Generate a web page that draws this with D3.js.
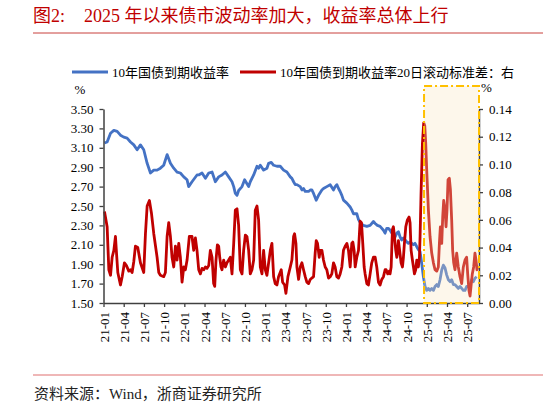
<!DOCTYPE html>
<html><head><meta charset="utf-8">
<script src="https://cdn.jsdelivr.net/npm/d3@7"></script>
<style>
html,body{margin:0;padding:0;background:#fff;}
svg{display:block;}
</style></head><body>
<svg id="chart" width="548" height="403"></svg>
<script>
// ---------- data ----------
const titleLead = "图2:";
const titleMain = "2025 年以来债市波动率加大，收益率总体上行";
const sourceText = "资料来源：Wind，浙商证券研究所";
const seriesNames = ["10年国债到期收益率", "10年国债到期收益率20日滚动标准差：右"];
const xTickLabels = ["21-01","21-04","21-07","21-10","22-01","22-04","22-07","22-10","23-01","23-04","23-07","23-10","24-01","24-04","24-07","24-10","25-01","25-04","25-07"];
const leftTicks = [1.5,1.7,1.9,2.1,2.3,2.5,2.7,2.9,3.1,3.3,3.5];
const rightTicks = [0,0.02,0.04,0.06,0.08,0.10,0.12,0.14];
const highlightStart = 2024.966; // start of shaded 2025 window (decimal year)

// 10Y CGB yield (%), x as decimal year
const yieldT = [2021.012,2021.045,2021.087,2021.128,2021.169,2021.210,2021.251,2021.292,2021.334,2021.375,2021.416,2021.457,2021.498,2021.540,2021.581,2021.622,2021.663,2021.704,2021.745,2021.787,2021.828,2021.869,2021.910,2021.951,2021.993,2022.034,2022.054,2022.095,2022.157,
2022.178,2022.219,2022.261,2022.302,2022.343,2022.384,2022.425,2022.466,2022.508,2022.549,2022.590,2022.611,2022.631,2022.652,2022.672,2022.714,2022.746,2022.775,2022.796,2022.816,2022.858,2022.899,2022.919,2022.940,2022.981,2023.022,2023.043,2023.076,2023.105,2023.146,2023.187,2023.228,2023.269,2023.311,
2023.331,2023.352,2023.372,2023.393,2023.434,2023.455,2023.475,2023.496,2023.537,2023.558,2023.578,2023.599,2023.632,2023.661,2023.702,2023.722,2023.763,2023.805,2023.846,2023.866,2023.887,2023.908,2023.928,2023.949,2023.969,2024.011,2024.052,2024.072,2024.093,2024.134,2024.155,2024.183,2024.216,2024.258,2024.299,2024.340,2024.361,2024.389,2024.422,2024.464,2024.484,2024.505,
2024.526,2024.546,2024.567,2024.587,2024.608,2024.629,2024.649,2024.670,2024.690,2024.711,2024.732,2024.752,2024.773,2024.793,2024.814,2024.835,2024.855,2024.876,2024.896,2024.917,2024.937,2024.958,2024.979,2024.999,2025.020,2025.040,2025.061,2025.082,2025.102,2025.123,2025.143,2025.164,2025.185,2025.205,2025.226,2025.246,2025.267,2025.288,2025.308,2025.329,2025.349,2025.370,2025.390,2025.411,2025.432,2025.452,2025.473,2025.493,2025.514,2025.535,2025.555,2025.576,2025.596,2025.617];
const yieldV = [3.15,3.16,3.25,3.28,3.27,3.23,3.21,3.20,3.16,3.13,3.08,3.13,3.08,2.94,2.84,2.87,2.87,2.89,2.92,3.03,2.94,2.89,2.85,2.84,2.80,2.77,2.70,2.75,2.82,
2.82,2.84,2.785,2.84,2.85,2.75,2.80,2.82,2.85,2.80,2.75,2.70,2.63,2.61,2.66,2.70,2.77,2.73,2.70,2.75,2.82,2.91,2.89,2.92,2.87,2.89,2.94,2.95,2.92,2.91,2.91,2.87,2.85,2.80,
2.785,2.75,2.72,2.72,2.70,2.665,2.68,2.65,2.65,2.665,2.665,2.63,2.56,2.61,2.665,2.68,2.70,2.72,2.665,2.70,2.72,2.68,2.65,2.61,2.56,2.53,2.49,2.46,2.42,2.42,2.36,2.32,2.30,2.29,2.30,2.34,2.32,2.30,2.29,2.25,2.22,2.27,
2.27,2.25,2.22,2.20,2.18,2.22,2.235,2.18,2.15,2.17,2.15,2.13,2.115,2.13,2.115,2.10,2.115,2.08,2.05,2.03,1.91,1.77,1.67,1.63,1.65,1.63,1.65,1.63,1.67,1.69,1.67,1.74,1.84,1.89,1.86,1.79,1.74,1.72,1.74,1.69,1.69,1.67,1.65,1.67,1.65,1.63,1.63,1.67,1.67,1.69,1.74,1.72,1.755,1.77];

// 20-day rolling std of the yield (%), right axis
const stdT = [2021.012,2021.045,2021.066,2021.087,2021.107,2021.128,2021.148,2021.161,2021.177,2021.210,2021.231,2021.259,2021.284,2021.313,2021.334,2021.354,2021.375,2021.395,2021.424,2021.457,2021.498,2021.519,2021.540,2021.568,2021.593,2021.622,2021.663,2021.684,2021.704,2021.745,2021.766,2021.787,2021.807,2021.828,2021.848,2021.869,2021.890,2021.910,2021.931,2021.951,2021.972,2021.993,2022.013,2022.034,2022.062,2022.095,2022.116,2022.137,2022.157,
2022.178,2022.199,2022.219,2022.240,2022.261,2022.281,2022.302,2022.322,2022.343,2022.363,2022.376,2022.392,2022.409,2022.425,2022.438,2022.454,2022.466,2022.487,2022.508,2022.528,2022.549,2022.569,2022.590,2022.611,2022.631,2022.652,2022.672,2022.693,2022.714,2022.734,2022.755,2022.775,2022.796,2022.816,2022.837,2022.858,2022.878,2022.899,2022.919,2022.940,2022.961,2022.981,2023.002,2023.022,2023.043,2023.064,2023.084,2023.105,2023.125,2023.146,2023.166,2023.199,2023.216,2023.241,2023.257,2023.282,2023.311,2023.331,
2023.352,2023.364,2023.381,2023.393,2023.414,2023.434,2023.455,2023.475,2023.496,2023.516,2023.537,2023.558,2023.578,2023.599,2023.619,2023.632,2023.648,2023.669,2023.681,2023.702,2023.722,2023.743,2023.763,2023.784,2023.805,2023.825,2023.846,2023.866,2023.887,2023.908,2023.928,2023.949,2023.969,2023.990,2024.011,2024.031,2024.052,2024.072,2024.085,2024.101,2024.114,2024.134,2024.155,2024.175,2024.192,2024.208,2024.225,2024.237,2024.258,2024.278,2024.299,2024.319,2024.340,2024.361,2024.381,2024.402,2024.422,2024.443,2024.464,2024.484,
2024.497,2024.517,2024.534,2024.546,2024.559,2024.575,2024.587,2024.600,2024.616,2024.629,2024.641,2024.649,2024.670,2024.682,2024.699,2024.711,2024.723,2024.740,2024.760,2024.781,2024.793,2024.806,2024.822,2024.835,2024.847,2024.863,2024.876,2024.888,2024.896,2024.909,2024.917,2024.929,2024.946,2024.962,2024.975,2024.987,2024.999,2025.020,2025.040,2025.061,2025.082,2025.102,2025.123,2025.143,2025.156,2025.168,2025.185,2025.197,2025.209,2025.226,2025.238,2025.250,2025.263,2025.279,2025.292,2025.308,2025.320,2025.333,2025.349,2025.370,2025.390,2025.411,2025.432,2025.452,2025.473,2025.493,2025.506,2025.522,2025.535,2025.547,2025.563,2025.580,2025.596,2025.609,2025.621,2025.629];
const stdV = [0.066,0.055,0.024,0.020,0.033,0.038,0.048,0.036,0.022,0.013,0.019,0.029,0.027,0.023,0.024,0.022,0.030,0.041,0.040,0.029,0.022,0.050,0.070,0.074,0.065,0.050,0.033,0.022,0.020,0.019,0.022,0.048,0.058,0.048,0.033,0.026,0.041,0.031,0.043,0.033,0.015,0.026,0.024,0.031,0.048,0.048,0.038,0.047,0.038,
0.024,0.021,0.025,0.024,0.026,0.025,0.027,0.038,0.033,0.014,0.012,0.031,0.042,0.041,0.033,0.026,0.024,0.031,0.026,0.029,0.031,0.033,0.021,0.043,0.067,0.068,0.056,0.024,0.021,0.038,0.049,0.048,0.038,0.021,0.024,0.031,0.067,0.070,0.060,0.026,0.021,0.038,0.024,0.020,0.029,0.038,0.043,0.019,0.014,0.013,0.019,0.024,0.015,0.013,0.007,0.019,0.026,0.031,
0.048,0.050,0.043,0.026,0.017,0.026,0.029,0.024,0.019,0.015,0.014,0.017,0.018,0.019,0.036,0.045,0.043,0.033,0.038,0.038,0.031,0.026,0.024,0.018,0.019,0.021,0.029,0.026,0.019,0.018,0.021,0.026,0.038,0.041,0.043,0.038,0.026,0.043,0.044,0.038,0.026,0.033,0.038,0.059,0.058,0.043,0.026,0.021,0.014,0.013,0.021,0.029,0.033,0.033,0.026,0.015,0.013,0.017,0.019,0.024,
0.024,0.021,0.023,0.021,0.026,0.053,0.055,0.048,0.038,0.033,0.038,0.045,0.035,0.029,0.026,0.033,0.043,0.055,0.060,0.062,0.058,0.038,0.031,0.026,0.021,0.024,0.031,0.029,0.026,0.033,0.048,0.079,0.115,0.130,0.128,0.115,0.096,0.067,0.048,0.036,0.029,0.024,0.023,0.026,0.043,0.055,0.043,0.062,0.074,0.067,0.055,0.067,0.089,0.090,0.082,0.060,0.038,0.029,0.024,0.036,0.026,0.019,0.014,0.026,0.031,0.033,0.021,0.009,0.005,0.012,0.021,0.026,0.036,0.031,0.024,0.026];

// ---------- drawing ----------
const FONT = '"Liberation Serif","Noto Sans CJK SC",serif';
const BLUE = "#4472C4", RED = "#C00000", AXIS = "#404040";
const svg = d3.select("#chart").style("font-family", FONT);

const x = d3.scaleLinear().domain([2021.0, 2025.646]).range([103.5, 479]);
const yL = d3.scaleLinear().domain([1.5, 3.5]).range([303, 109]);
const yR = d3.scaleLinear().domain([0, 0.14]).range([303, 109]);

// title
svg.append("text").attr("x", 33).attr("y", 22).attr("font-size", 18).attr("fill", RED).text(titleLead);
svg.append("text").attr("x", 84).attr("y", 22).attr("font-size", 18).attr("fill", RED).text(titleMain);
svg.append("line").attr("x1", 33).attr("x2", 543).attr("y1", 33).attr("y2", 33)
  .attr("stroke", "#C8403C").attr("stroke-width", 1);

// legend
const legY = 72;
svg.append("line").attr("x1", 72).attr("x2", 108).attr("y1", legY).attr("y2", legY).attr("stroke", BLUE).attr("stroke-width", 3);
svg.append("text").attr("x", 112).attr("y", legY).attr("dy", "0.35em").attr("font-size", 13).attr("fill", "#000").text(seriesNames[0]);
svg.append("line").attr("x1", 240).attr("x2", 276).attr("y1", legY).attr("y2", legY).attr("stroke", RED).attr("stroke-width", 3);
svg.append("text").attr("x", 280).attr("y", legY).attr("dy", "0.35em").attr("font-size", 13).attr("fill", "#000").text(seriesNames[1]);

// unit labels
svg.append("text").attr("x", 80).attr("y", 89).attr("dy", "0.35em").attr("text-anchor", "middle").attr("font-size", 13).text("%");
svg.append("text").attr("x", 481).attr("y", 87).attr("dy", "0.35em").attr("font-size", 13).text("%");

// lines
const yieldData = d3.zip(yieldT, yieldV);
const stdData = d3.zip(stdT, stdV);
svg.append("path").datum(yieldData)
  .attr("d", d3.line().x(d => x(d[0])).y(d => yL(d[1])))
  .attr("fill", "none").attr("stroke", BLUE).attr("stroke-width", 2.8).attr("stroke-linejoin", "round");
svg.append("path").datum(stdData)
  .attr("d", d3.line().x(d => x(d[0])).y(d => yR(d[1])))
  .attr("fill", "none").attr("stroke", RED).attr("stroke-width", 2.8).attr("stroke-linejoin", "round");

// highlight overlay
const hx0 = x(highlightStart), hx1 = x(x.domain()[1]);
const hy0 = yL(3.5) - 23, hy1 = yL(1.5);
svg.append("rect").attr("x", hx0).attr("y", hy0).attr("width", hx1 - hx0).attr("height", hy1 - hy0)
  .attr("fill", "rgb(247,228,190)").attr("fill-opacity", 0.3);

// axes
function styleAxis(g) {
  g.select(".domain").attr("stroke", AXIS).attr("stroke-width", 1.5);
  g.selectAll(".tick line").attr("stroke", AXIS).attr("stroke-width", 1.3);
  g.selectAll(".tick text").attr("font-size", 13).attr("fill", "#000").attr("font-family", FONT);
}
const xTickVals = xTickLabels.map(s => 2000 + +s.slice(0, 2) + (+s.slice(3) - 1) / 12);
svg.append("g").attr("transform", "translate(0,303)")
  .call(d3.axisBottom(x).tickValues(xTickVals).tickFormat((d, i) => xTickLabels[i]).tickSize(4).tickSizeOuter(0))
  .call(styleAxis)
  .call(g => g.selectAll(".tick text").attr("transform", "rotate(-90)").attr("text-anchor", "end")
    .attr("x", -9).attr("y", 0).attr("dy", "0.35em"));
svg.append("g").attr("transform", `translate(${x.range()[0]},0)`)
  .call(d3.axisLeft(yL).tickValues(leftTicks).tickFormat(d3.format(".2f")).tickSize(4).tickSizeOuter(0).tickPadding(6))
  .call(styleAxis);
svg.append("g").attr("transform", `translate(${x.range()[1]},0)`)
  .call(d3.axisRight(yR).tickValues(rightTicks).tickFormat(d3.format(".2f")).tickSize(4).tickSizeOuter(0).tickPadding(6))
  .call(styleAxis);

// highlight border
svg.append("rect").attr("x", hx0).attr("y", hy0).attr("width", hx1 - hx0).attr("height", hy1 - hy0)
  .attr("fill", "none").attr("stroke", "#FFC000").attr("stroke-width", 2).attr("stroke-dasharray", "8,3,2,3");

// footer
svg.append("line").attr("x1", 33).attr("x2", 543).attr("y1", 375).attr("y2", 375)
  .attr("stroke", "#E07070").attr("stroke-width", 1.2);
svg.append("text").attr("x", 34).attr("y", 394).attr("dy", "0.35em").attr("font-size", 15).attr("fill", "#222").text(sourceText);
</script>
</body></html>
